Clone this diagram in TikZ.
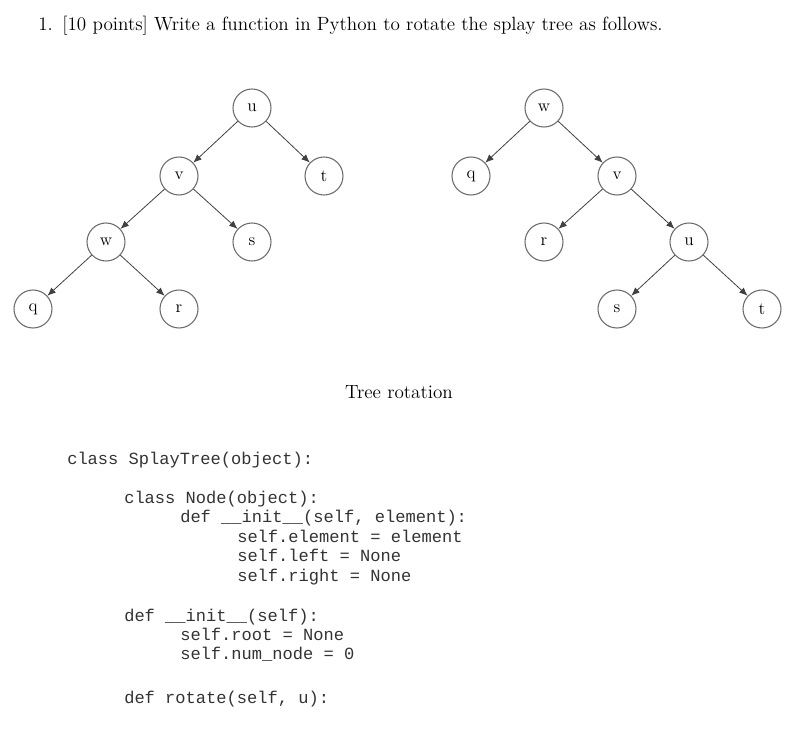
\documentclass[tikz,border=0pt]{standalone}
\usepackage{fontspec}
\setmonofont{Liberation Mono}
\usepackage{tikz}
\usetikzlibrary{arrows.meta, positioning}
\tikzset{
  treenode/.style={
    draw=gray!85!black, circle, thick, minimum size=28.5pt, inner sep=0pt,
    font=\fontsize{13}{15}\selectfont, fill=white
  },
  treearrow/.style={
    -{Latex[length=2.2mm, width=1.8mm]}, semithick, color=black!75
  },
  codeline/.style={
    anchor=base west, inner sep=0pt,
    font=\ttfamily\fontsize{12.8}{14}\selectfont, text=black!80
  },
}

\begin{document}
\begin{tikzpicture}[x=0.75pt, y=-0.75pt]
  \useasboundingbox (0,0) rectangle (811,740);

  % Question text
  \node[anchor=base west, inner sep=0pt, font=\fontsize{14.35}{17}\selectfont]
    (title) at (38,30) {1.\enspace [10 points] Write a function in Python to rotate the splay tree as follows.};

  % Tree before rotation
  \node[treenode] (lu) at (252,108) {u};
  \node[treenode] (lv) at (179,176) {v};
  \node[treenode] (lt) at (324,176) {t};
  \node[treenode] (lw) at (106,242) {w};
  \node[treenode] (ls) at (252,242) {s};
  \node[treenode] (lq) at (33,309) {q};
  \node[treenode] (lr) at (179,309) {r};
  \draw[treearrow] (lu) -- (lv);
  \draw[treearrow] (lu) -- (lt);
  \draw[treearrow] (lv) -- (lw);
  \draw[treearrow] (lv) -- (ls);
  \draw[treearrow] (lw) -- (lq);
  \draw[treearrow] (lw) -- (lr);

  % Tree after rotation
  \node[treenode] (rw) at (544,108) {w};
  \node[treenode] (rq) at (471,176) {q};
  \node[treenode] (rv) at (617,176) {v};
  \node[treenode] (rr) at (544,242) {r};
  \node[treenode] (ru) at (689,242) {u};
  \node[treenode] (rs) at (617,309) {s};
  \node[treenode] (rt) at (762,309) {t};
  \draw[treearrow] (rw) -- (rq);
  \draw[treearrow] (rw) -- (rv);
  \draw[treearrow] (rv) -- (rr);
  \draw[treearrow] (rv) -- (ru);
  \draw[treearrow] (ru) -- (rs);
  \draw[treearrow] (ru) -- (rt);

  \node[font=\fontsize{14.35}{17}\selectfont] (caption) at (399,392) {Tree rotation};

  % Python skeleton
  \node[codeline] (c1) at (67,464) {class SplayTree(object):};
  \node[codeline] (c2) at (124,503) {class Node(object):};
  \node[codeline] (c3) at (180,522) {def \_\_init\_\_(self, element):};
  \node[codeline] (c4) at (237,542) {self.element = element};
  \node[codeline] (c5) at (237,561) {self.left = None};
  \node[codeline] (c6) at (237,581) {self.right = None};
  \node[codeline] (c7) at (124,621) {def \_\_init\_\_(self):};
  \node[codeline] (c8) at (180,640) {self.root = None};
  \node[codeline] (c9) at (180,659) {self.num\_node = 0};
  \node[codeline] (c10) at (124,703) {def rotate(self, u):};
\end{tikzpicture}
\end{document}
